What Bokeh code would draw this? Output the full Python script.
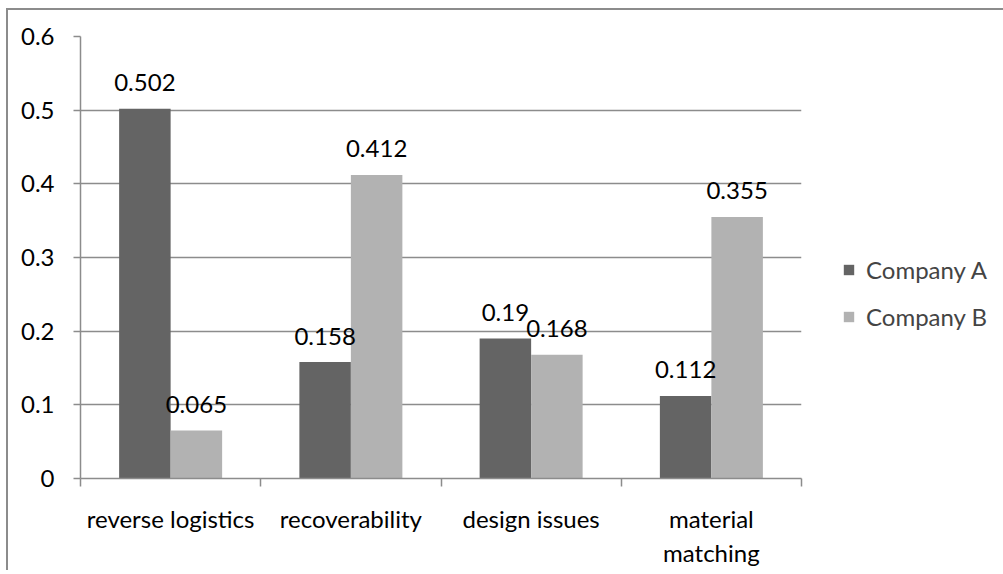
from bokeh.plotting import figure
from bokeh.models import (ColumnDataSource, FixedTicker, NumeralTickFormatter,
                          Legend, LegendItem, Range1d)
from bokeh.embed import file_html
from bokeh.resources import INLINE
from bokeh.core.properties import value

# Chart data
categories = ["reverse logistics", "recoverability", "design issues", "material matching"]
tick_labels = ["reverse logistics", "recoverability", "design issues", "material\nmatching"]
company_a = [0.502, 0.158, 0.19, 0.112]
company_b = [0.065, 0.412, 0.168, 0.355]
y_ticks = [0, 0.1, 0.2, 0.3, 0.4, 0.5, 0.6]

FONT = "Lato"
FONT_SIZE = "24px"
GRID = "#8c8c8c"
COLOR_A = "#646464"
COLOR_B = "#b2b2b2"

n = len(categories)
bar_w = 1 / 3.5          # two bars plus a 150% gap per category
centers = [i + 0.5 for i in range(n)]

src_a = ColumnDataSource(dict(x=[c - bar_w / 2 for c in centers], top=company_a,
                              label=[str(v) for v in company_a]))
src_b = ColumnDataSource(dict(x=[c + bar_w / 2 for c in centers], top=company_b,
                              label=[str(v) for v in company_b]))

p = figure(frame_width=721, frame_height=442, x_range=Range1d(0, n), y_range=Range1d(0, 0.6),
           output_backend="svg", toolbar_location=None,
           min_border_left=72, min_border_right=0,
           min_border_top=26, min_border_bottom=90)
p.outline_line_color = None
p.background_fill_color = "white"
p.border_fill_color = "white"
p.margin = (8, 0, 0, 6)
p.styles = {"border-left": f"2px solid {GRID}", "border-top": f"2px solid {GRID}"}

ra = p.vbar(x="x", top="top", width=bar_w, source=src_a, fill_color=COLOR_A, line_color=None)
rb = p.vbar(x="x", top="top", width=bar_w, source=src_b, fill_color=COLOR_B, line_color=None)

for src in (src_a, src_b):
    p.text(x="x", y="top", text="label", source=src, text_align="center",
           text_baseline="alphabetic", y_offset=-26, text_font=value(FONT),
           text_font_size=FONT_SIZE, text_color="black")

# x axis: labels at category centres, ticks at category boundaries
xa = p.xaxis[0]
xa.ticker = FixedTicker(ticks=centers, minor_ticks=list(range(n + 1)))
xa.major_label_overrides = {c: lab for c, lab in zip(centers, tick_labels)}
xa.major_tick_out = 0
xa.major_tick_in = 0
xa.minor_tick_out = 8
xa.minor_tick_in = 0
xa.minor_tick_line_color = GRID
xa.minor_tick_line_width = 1.5
xa.axis_line_color = GRID
xa.axis_line_width = 1.5
xa.major_label_standoff = 17
xa.major_label_text_font = FONT
xa.major_label_text_font_size = FONT_SIZE
xa.major_label_text_color = "black"

ya = p.yaxis[0]
ya.ticker = FixedTicker(ticks=y_ticks)
ya.formatter = NumeralTickFormatter(format="0.[0]")
ya.major_tick_out = 7
ya.major_tick_in = 0
ya.minor_tick_line_color = None
ya.major_tick_line_color = GRID
ya.major_tick_line_width = 1.5
ya.axis_line_color = GRID
ya.axis_line_width = 1.5
ya.major_label_standoff = 19
ya.major_label_text_font = FONT
ya.major_label_text_font_size = FONT_SIZE
ya.major_label_text_color = "black"

p.xgrid.visible = False
p.ygrid.ticker = FixedTicker(ticks=y_ticks)
p.ygrid.grid_line_color = GRID
p.ygrid.grid_line_width = 1.5

legend = Legend(items=[LegendItem(label="Company A", renderers=[ra]),
                       LegendItem(label="Company B", renderers=[rb])],
                location=(41, 147), border_line_color=None, background_fill_alpha=0,
                padding=0, margin=0, glyph_width=13, glyph_height=13,
                label_standoff=11, label_height=24, spacing=18,
                label_text_font=FONT, label_text_font_size=FONT_SIZE)
p.add_layout(legend, "right")

open("out.html", "w").write(file_html(p, INLINE))
